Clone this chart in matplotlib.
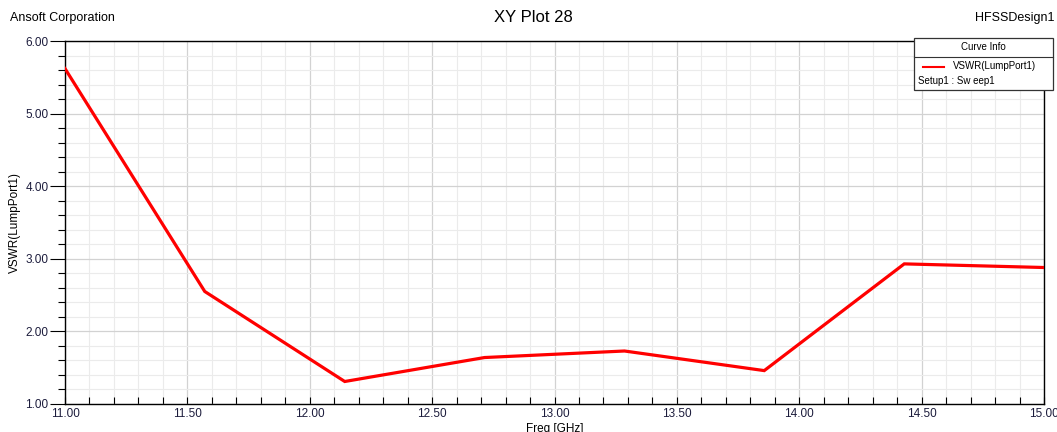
import matplotlib
matplotlib.use("Agg")
import matplotlib.pyplot as plt
from matplotlib.patches import Rectangle
from matplotlib.lines import Line2D
from matplotlib.ticker import MultipleLocator, FormatStrFormatter

plt.rcParams["font.family"] = ["Liberation Sans", "DejaVu Sans"]

# VSWR sweep of LumpPort1
freq_ghz = [11.00, 11.571, 12.143, 12.714, 13.286, 13.857, 14.429, 15.00]
vswr = [5.62, 2.55, 1.31, 1.64, 1.73, 1.46, 2.93, 2.88]

W, H = 1057, 432
fig = plt.figure(figsize=(W / 100, H / 100), dpi=100)
ax = fig.add_axes([65 / W, (H - 404) / H, (1044 - 65) / W, (404 - 41) / H])

ax.plot(freq_ghz, vswr, color="#ff0000", lw=2.3, solid_joinstyle="miter", zorder=3)

ax.set_xlim(11, 15)
ax.set_ylim(1, 6)
ax.xaxis.set_major_locator(MultipleLocator(0.5))
ax.xaxis.set_minor_locator(MultipleLocator(0.1))
ax.yaxis.set_major_locator(MultipleLocator(1.0))
ax.yaxis.set_minor_locator(MultipleLocator(0.2))
ax.xaxis.set_major_formatter(FormatStrFormatter("%.2f"))
ax.yaxis.set_major_formatter(FormatStrFormatter("%.2f"))

ax.grid(which="minor", color="#ebebeb", lw=0.8)
ax.grid(which="major", color="#d2d2d2", lw=0.9)
ax.set_axisbelow(True)

lab_col = "#1c1c3c"
ax.tick_params(axis="x", which="both", direction="in", length=5, width=0.8,
               labelsize=8.5, labelcolor=lab_col, pad=3)
ax.tick_params(axis="y", which="major", direction="out", length=11, width=0.8,
               labelsize=8.5, labelcolor=lab_col, pad=1)
ax.tick_params(axis="y", which="minor", direction="out", length=5, width=0.8)
for s in ax.spines.values():
    s.set_color("black")
    s.set_linewidth(1.0)

ax.set_xlabel("Freq [GHz]", fontsize=8.5, labelpad=2)
ax.set_ylabel("VSWR(LumpPort1)", fontsize=8.5, labelpad=3)

fig.text(10 / W, 1 - 18 / H, "Ansoft Corporation", fontsize=9, va="center", ha="left")
fig.text(533 / W, 1 - 18 / H, "XY Plot 28", fontsize=12, va="center", ha="center")
fig.text(1055 / W, 1 - 18 / H, "HFSSDesign1", fontsize=9, va="center", ha="right")

# curve info box
bx0, bx1, by0, by1, bmid = 914, 1053, 38, 90, 57
fig.patches.append(Rectangle((bx0 / W, 1 - by1 / H), (bx1 - bx0) / W, (by1 - by0) / H,
                             transform=fig.transFigure, facecolor="white",
                             edgecolor="#333333", lw=0.9, zorder=5))
fig.lines.append(Line2D([bx0 / W, bx1 / W], [1 - bmid / H, 1 - bmid / H],
                        transform=fig.transFigure, color="#333333", lw=0.8, zorder=6))
fig.text((bx0 + bx1) / 2 / W, 1 - 47 / H, "Curve Info", fontsize=7, ha="center",
         va="center", zorder=7)
fig.lines.append(Line2D([923 / W, 944 / W], [1 - 67 / H, 1 - 67 / H],
                        transform=fig.transFigure, color="#ff0000", lw=1.5, zorder=7))
fig.text(953 / W, 1 - 66 / H, "VSWR(LumpPort1)", fontsize=7, ha="left", va="center", zorder=7)
fig.text(918 / W, 1 - 81 / H, "Setup1 : Sw eep1", fontsize=7, ha="left", va="center", zorder=7)

fig.savefig("out.png", dpi=100)
